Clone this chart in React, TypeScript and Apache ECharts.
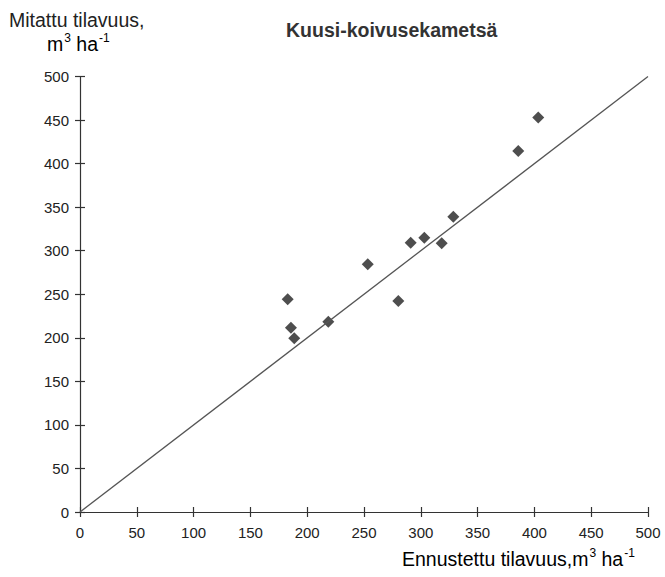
import React, { useEffect, useRef } from "react";
import * as echarts from "echarts";

const predicted = [182.8, 185.7, 188.6, 218.6, 253.3, 280.2, 291.1, 303.1, 318.4, 328.6, 385.8, 403.4];
const measured = [244.2, 211.6, 199.4, 218.5, 284.4, 242.2, 309.2, 314.9, 308.5, 339.0, 414.5, 452.8];
const referenceLine = [[0, 0], [500, 500]];
const axisMin = 0;
const axisMax = 500;
const axisStep = 50;

const titleText = "Kuusi-koivusekametsä";
const yNameLine1 = "Mitattu tilavuus,";
const yNameLine2 = "{n|m}{s|3}{n| ha}{s|-1}";
const xName = "{n|Ennustettu tilavuus,m}{s|3}{n| ha}{s|-1}";

const FONT = "'Liberation Sans', Arial, sans-serif";
const INK = "#222";

const rich = {
  n: { fontSize: 19.5, fontFamily: FONT, color: INK, lineHeight: 22, verticalAlign: "bottom" },
  s: { fontSize: 12, fontFamily: FONT, color: INK, lineHeight: 22, verticalAlign: "top", padding: [0, 0, 0, 1] },
};

export default function App() {
  const ref = useRef<HTMLDivElement>(null);
  useEffect(() => {
    if (!ref.current) return;
    const chart = echarts.init(ref.current, null, { renderer: "svg" });
    const points = predicted.map((x, i) => [x, measured[i]]);
    const baseAxis = {
      type: "value",
      min: axisMin,
      max: axisMax,
      interval: axisStep,
      splitLine: { show: false },
    };
    chart.setOption({
      animation: false,
      backgroundColor: "#fff",
      textStyle: { fontFamily: FONT },
      grid: { left: 80, right: 17, top: 76.5, bottom: 65 },
      xAxis: [
        {
          ...baseAxis,
          axisLine: { show: true, lineStyle: { color: "#333", width: 1.2 } },
          axisTick: { show: true, length: 5, lineStyle: { color: "#333", width: 1.2 } },
          axisLabel: { color: INK, fontSize: 15, margin: 13, fontFamily: FONT },
        },
        {
          ...baseAxis,
          position: "bottom",
          axisLine: { show: false },
          axisTick: { show: true, inside: true, length: 5, lineStyle: { color: "#333", width: 1.2 } },
          axisLabel: { show: false },
        },
      ],
      yAxis: [
        {
          ...baseAxis,
          axisLine: { show: true, lineStyle: { color: "#333", width: 1.2 } },
          axisTick: { show: true, length: 5, lineStyle: { color: "#333", width: 1.2 } },
          axisLabel: { color: INK, fontSize: 15, margin: 11, fontFamily: FONT },
        },
        {
          ...baseAxis,
          position: "left",
          axisLine: { show: false },
          axisTick: { show: true, inside: true, length: 5, lineStyle: { color: "#333", width: 1.2 } },
          axisLabel: { show: false },
        },
      ],
      graphic: [
        {
          type: "text",
          left: 286,
          top: 20,
          style: { text: titleText, font: `bold 19.5px ${FONT}`, fill: "#333" },
        },
        {
          type: "text",
          left: 9,
          top: 10,
          style: { text: yNameLine1, font: `19.5px ${FONT}`, fill: INK },
        },
        {
          type: "text",
          left: 47,
          top: 32,
          style: { text: yNameLine2, rich },
        },
        {
          type: "text",
          left: 402,
          top: 547,
          style: { text: xName, rich },
        },
      ],
      series: [
        {
          type: "line",
          data: referenceLine,
          symbol: "none",
          lineStyle: { color: "#555", width: 1.3 },
          silent: true,
        },
        {
          type: "scatter",
          data: points,
          symbol: "diamond",
          symbolSize: 12,
          itemStyle: { color: "#222" },
        },
      ],
    });
    return () => chart.dispose();
  }, []);
  return <div ref={ref} style={{ width: 665, height: 577, position: "absolute", left: 0, top: 0 }} />;
}
